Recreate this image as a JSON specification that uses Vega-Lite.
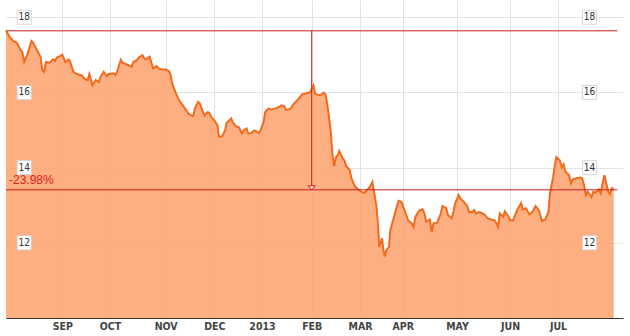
{
  "$schema": "https://vega.github.io/schema/vega-lite/v6.json",
  "width": 617,
  "height": 318,
  "autosize": {"type": "none"},
  "padding": {"left": 6, "top": 0, "right": 7, "bottom": 18},
  "config": {"view": {"stroke": null}, "font": "Liberation Sans"},
  "datasets": {
    "prices": [
      {"date": "2012/08/01", "price": 17.64}, {"date": "2012/08/03", "price": 17.48}, {"date": "2012/08/05", "price": 17.37}, {"date": "2012/08/07", "price": 17.32},
      {"date": "2012/08/09", "price": 17.13}, {"date": "2012/08/10", "price": 17.08}, {"date": "2012/08/11", "price": 16.81}, {"date": "2012/08/13", "price": 17.04},
      {"date": "2012/08/15", "price": 17.37}, {"date": "2012/08/16", "price": 17.32}, {"date": "2012/08/18", "price": 17.13}, {"date": "2012/08/20", "price": 16.95},
      {"date": "2012/08/21", "price": 16.59}, {"date": "2012/08/22", "price": 16.55}, {"date": "2012/08/23", "price": 16.81}, {"date": "2012/08/25", "price": 16.79},
      {"date": "2012/08/27", "price": 16.88}, {"date": "2012/08/28", "price": 16.84}, {"date": "2012/08/29", "price": 16.93}, {"date": "2012/08/31", "price": 16.97},
      {"date": "2012/09/01", "price": 17.01}, {"date": "2012/09/03", "price": 16.81}, {"date": "2012/09/05", "price": 16.88}, {"date": "2012/09/06", "price": 16.81},
      {"date": "2012/09/08", "price": 16.55}, {"date": "2012/09/10", "price": 16.49}, {"date": "2012/09/13", "price": 16.46}, {"date": "2012/09/15", "price": 16.37},
      {"date": "2012/09/17", "price": 16.33}, {"date": "2012/09/18", "price": 16.49}, {"date": "2012/09/20", "price": 16.19}, {"date": "2012/09/22", "price": 16.33},
      {"date": "2012/09/24", "price": 16.28}, {"date": "2012/09/25", "price": 16.41}, {"date": "2012/09/27", "price": 16.55}, {"date": "2012/09/29", "price": 16.43},
      {"date": "2012/09/30", "price": 16.49},
      {"date": "2012/10/03", "price": 16.51}, {"date": "2012/10/04", "price": 16.46}, {"date": "2012/10/05", "price": 16.55}, {"date": "2012/10/07", "price": 16.87},
      {"date": "2012/10/08", "price": 16.79}, {"date": "2012/10/11", "price": 16.73}, {"date": "2012/10/13", "price": 16.68}, {"date": "2012/10/14", "price": 16.81},
      {"date": "2012/10/16", "price": 16.86}, {"date": "2012/10/17", "price": 16.93}, {"date": "2012/10/19", "price": 16.99}, {"date": "2012/10/20", "price": 16.91},
      {"date": "2012/10/21", "price": 16.88}, {"date": "2012/10/23", "price": 16.95}, {"date": "2012/10/25", "price": 16.64}, {"date": "2012/10/27", "price": 16.70},
      {"date": "2012/10/28", "price": 16.64}, {"date": "2012/10/30", "price": 16.61},
      {"date": "2012/11/01", "price": 16.61}, {"date": "2012/11/03", "price": 16.57}, {"date": "2012/11/04", "price": 16.46}, {"date": "2012/11/05", "price": 16.24},
      {"date": "2012/11/07", "price": 16.01}, {"date": "2012/11/09", "price": 15.81}, {"date": "2012/11/11", "price": 15.69}, {"date": "2012/11/13", "price": 15.57},
      {"date": "2012/11/15", "price": 15.44}, {"date": "2012/11/17", "price": 15.39}, {"date": "2012/11/18", "price": 15.37}, {"date": "2012/11/19", "price": 15.57},
      {"date": "2012/11/21", "price": 15.75}, {"date": "2012/11/22", "price": 15.71}, {"date": "2012/11/24", "price": 15.48}, {"date": "2012/11/25", "price": 15.39},
      {"date": "2012/11/27", "price": 15.48}, {"date": "2012/11/28", "price": 15.45}, {"date": "2012/11/29", "price": 15.35},
      {"date": "2012/12/01", "price": 15.26}, {"date": "2012/12/03", "price": 15.13}, {"date": "2012/12/04", "price": 14.83}, {"date": "2012/12/06", "price": 14.83},
      {"date": "2012/12/08", "price": 14.99}, {"date": "2012/12/09", "price": 15.19}, {"date": "2012/12/12", "price": 15.31}, {"date": "2012/12/13", "price": 15.21},
      {"date": "2012/12/15", "price": 15.10}, {"date": "2012/12/17", "price": 15.07}, {"date": "2012/12/19", "price": 14.91}, {"date": "2012/12/20", "price": 14.99},
      {"date": "2012/12/22", "price": 15.04}, {"date": "2012/12/23", "price": 14.91}, {"date": "2012/12/25", "price": 14.92}, {"date": "2012/12/27", "price": 14.99},
      {"date": "2012/12/29", "price": 14.95}, {"date": "2012/12/30", "price": 14.92}, {"date": "2012/12/31", "price": 14.99},
      {"date": "2013/01/02", "price": 15.21}, {"date": "2013/01/03", "price": 15.48}, {"date": "2013/01/05", "price": 15.57}, {"date": "2013/01/07", "price": 15.55},
      {"date": "2013/01/09", "price": 15.57}, {"date": "2013/01/11", "price": 15.60}, {"date": "2013/01/13", "price": 15.66}, {"date": "2013/01/15", "price": 15.63},
      {"date": "2013/01/16", "price": 15.53}, {"date": "2013/01/19", "price": 15.57}, {"date": "2013/01/20", "price": 15.66}, {"date": "2013/01/22", "price": 15.75},
      {"date": "2013/01/24", "price": 15.84}, {"date": "2013/01/26", "price": 15.95}, {"date": "2013/01/28", "price": 15.97}, {"date": "2013/01/30", "price": 15.99},
      {"date": "2013/01/31", "price": 16.01},
      {"date": "2013/02/02", "price": 16.19}, {"date": "2013/02/03", "price": 15.97}, {"date": "2013/02/05", "price": 15.93}, {"date": "2013/02/06", "price": 15.93},
      {"date": "2013/02/08", "price": 15.99}, {"date": "2013/02/09", "price": 15.95}, {"date": "2013/02/10", "price": 15.71}, {"date": "2013/02/12", "price": 14.99},
      {"date": "2013/02/13", "price": 14.37}, {"date": "2013/02/14", "price": 14.04}, {"date": "2013/02/15", "price": 14.27}, {"date": "2013/02/16", "price": 14.33},
      {"date": "2013/02/17", "price": 14.44}, {"date": "2013/02/19", "price": 14.24}, {"date": "2013/02/20", "price": 14.19}, {"date": "2013/02/21", "price": 14.04},
      {"date": "2013/02/23", "price": 13.94}, {"date": "2013/02/24", "price": 13.72}, {"date": "2013/02/26", "price": 13.51}, {"date": "2013/02/28", "price": 13.42},
      {"date": "2013/03/02", "price": 13.36}, {"date": "2013/03/04", "price": 13.33}, {"date": "2013/03/06", "price": 13.40}, {"date": "2013/03/08", "price": 13.48},
      {"date": "2013/03/10", "price": 13.62}, {"date": "2013/03/11", "price": 13.40}, {"date": "2013/03/13", "price": 12.96}, {"date": "2013/03/14", "price": 12.52},
      {"date": "2013/03/15", "price": 11.89}, {"date": "2013/03/17", "price": 12.12}, {"date": "2013/03/18", "price": 11.80}, {"date": "2013/03/19", "price": 11.64},
      {"date": "2013/03/20", "price": 11.80}, {"date": "2013/03/22", "price": 11.89}, {"date": "2013/03/23", "price": 12.34}, {"date": "2013/03/25", "price": 12.60},
      {"date": "2013/03/27", "price": 12.87}, {"date": "2013/03/29", "price": 13.12}, {"date": "2013/03/31", "price": 13.09},
      {"date": "2013/04/02", "price": 12.87}, {"date": "2013/04/04", "price": 12.60}, {"date": "2013/04/06", "price": 12.52}, {"date": "2013/04/07", "price": 12.42},
      {"date": "2013/04/08", "price": 12.69}, {"date": "2013/04/10", "price": 12.85}, {"date": "2013/04/12", "price": 12.89}, {"date": "2013/04/13", "price": 12.78},
      {"date": "2013/04/14", "price": 12.56}, {"date": "2013/04/16", "price": 12.62}, {"date": "2013/04/17", "price": 12.29}, {"date": "2013/04/18", "price": 12.52},
      {"date": "2013/04/20", "price": 12.53}, {"date": "2013/04/22", "price": 12.78}, {"date": "2013/04/23", "price": 12.98}, {"date": "2013/04/25", "price": 12.92},
      {"date": "2013/04/26", "price": 12.74}, {"date": "2013/04/28", "price": 12.65}, {"date": "2013/04/29", "price": 12.82}, {"date": "2013/04/30", "price": 13.05},
      {"date": "2013/05/02", "price": 13.27}, {"date": "2013/05/03", "price": 13.18}, {"date": "2013/05/05", "price": 13.09}, {"date": "2013/05/07", "price": 12.98},
      {"date": "2013/05/08", "price": 12.82}, {"date": "2013/05/10", "price": 12.82}, {"date": "2013/05/11", "price": 12.87}, {"date": "2013/05/12", "price": 12.78},
      {"date": "2013/05/14", "price": 12.82}, {"date": "2013/05/15", "price": 12.80}, {"date": "2013/05/17", "price": 12.76}, {"date": "2013/05/19", "price": 12.65},
      {"date": "2013/05/21", "price": 12.62}, {"date": "2013/05/23", "price": 12.60}, {"date": "2013/05/24", "price": 12.53}, {"date": "2013/05/25", "price": 12.42},
      {"date": "2013/05/26", "price": 12.78}, {"date": "2013/05/28", "price": 12.69}, {"date": "2013/05/29", "price": 12.84}, {"date": "2013/05/31", "price": 12.71},
      {"date": "2013/06/01", "price": 12.60}, {"date": "2013/06/03", "price": 12.60}, {"date": "2013/06/05", "price": 12.82}, {"date": "2013/06/06", "price": 12.92},
      {"date": "2013/06/08", "price": 13.06}, {"date": "2013/06/09", "price": 12.89}, {"date": "2013/06/11", "price": 12.92}, {"date": "2013/06/13", "price": 12.76},
      {"date": "2013/06/15", "price": 12.82}, {"date": "2013/06/17", "price": 12.98}, {"date": "2013/06/19", "price": 12.87}, {"date": "2013/06/21", "price": 12.58},
      {"date": "2013/06/23", "price": 12.62}, {"date": "2013/06/25", "price": 12.82}, {"date": "2013/06/26", "price": 13.32}, {"date": "2013/06/28", "price": 13.76},
      {"date": "2013/06/29", "price": 14.06}, {"date": "2013/06/30", "price": 14.28},
      {"date": "2013/07/02", "price": 14.19}, {"date": "2013/07/03", "price": 14.01}, {"date": "2013/07/04", "price": 14.09}, {"date": "2013/07/05", "price": 13.89},
      {"date": "2013/07/07", "price": 13.80}, {"date": "2013/07/08", "price": 13.58}, {"date": "2013/07/09", "price": 13.69}, {"date": "2013/07/11", "price": 13.72},
      {"date": "2013/07/13", "price": 13.74}, {"date": "2013/07/14", "price": 13.72}, {"date": "2013/07/15", "price": 13.54}, {"date": "2013/07/16", "price": 13.27},
      {"date": "2013/07/17", "price": 13.36}, {"date": "2013/07/19", "price": 13.22}, {"date": "2013/07/20", "price": 13.36}, {"date": "2013/07/21", "price": 13.33},
      {"date": "2013/07/23", "price": 13.42}, {"date": "2013/07/24", "price": 13.32}, {"date": "2013/07/25", "price": 13.58}, {"date": "2013/07/26", "price": 13.80},
      {"date": "2013/07/27", "price": 13.58}, {"date": "2013/07/28", "price": 13.36}, {"date": "2013/07/29", "price": 13.30}, {"date": "2013/07/30", "price": 13.45},
      {"date": "2013/07/31", "price": 13.45}
    ],
    "levels": [{"level": 12}, {"level": 14}, {"level": 16}, {"level": 18}],
    "change": [{"start": "2012/08/01", "pivot": "2013/02/01", "end": "2013/08/02", "from": 17.64, "to": 13.41, "label": "-23.98%"}]
  },
  "layer": [
    {
      "data": {"name": "prices"},
      "mark": {"type": "area", "fill": "#fda16c", "fillOpacity": 0.85},
      "encoding": {
        "x": {
          "field": "date", "type": "temporal",
          "scale": {
            "nice": false,
            "domain": {"expr": "[datetime(2012,7,1),datetime(2012,8,1),datetime(2012,9,1),datetime(2012,10,1),datetime(2012,11,1),datetime(2013,0,1),datetime(2013,1,1),datetime(2013,2,1),datetime(2013,3,1),datetime(2013,4,1),datetime(2013,5,1),datetime(2013,6,1),datetime(2013,7,5)]"},
            "range": [0, 56.3, 104, 159.7, 208.3, 256, 305.7, 354, 396.7, 451, 504, 552, 617]
          },
          "axis": {
            "title": null,
            "values": [
              {"year": 2012, "month": 9, "date": 1}, {"year": 2012, "month": 10, "date": 1}, {"year": 2012, "month": 11, "date": 1},
              {"year": 2012, "month": 12, "date": 1}, {"year": 2013, "month": 1, "date": 1}, {"year": 2013, "month": 2, "date": 1},
              {"year": 2013, "month": 3, "date": 1}, {"year": 2013, "month": 4, "date": 1}, {"year": 2013, "month": 5, "date": 1},
              {"year": 2013, "month": 6, "date": 1}, {"year": 2013, "month": 7, "date": 1}
            ],
            "labelExpr": "month(datum.value) == 0 ? timeFormat(datum.value, '%Y') : upper(timeFormat(datum.value, '%b'))",
            "ticks": false,
            "domainColor": "#333333",
            "domainWidth": 1,
            "grid": true,
            "gridColor": "#e3e3e3",
            "labelPadding": 3,
            "labelFont": "Liberation Sans Narrow, DejaVu Sans Condensed, Liberation Sans",
            "labelFontSize": 10.5,
            "labelFontWeight": "bold",
            "labelColor": "#444444"
          }
        },
        "y": {
          "field": "price", "type": "quantitative",
          "scale": {"domain": [10, 18.46], "nice": false, "zero": false},
          "axis": {"title": null, "values": [12, 14, 16, 18], "labels": false, "ticks": false, "domain": false, "grid": true, "gridColor": "#e3e3e3"}
        },
        "y2": {"datum": 10}
      }
    },
    {
      "data": {"name": "prices"},
      "mark": {"type": "line", "color": "#f26b1d", "strokeWidth": 2},
      "encoding": {
        "x": {"field": "date", "type": "temporal"},
        "y": {"field": "price", "type": "quantitative"}
      }
    },
    {
      "data": {"name": "change"},
      "mark": {"type": "rule", "color": "#c81e1e", "strokeWidth": 1},
      "encoding": {
        "x": {"field": "start", "type": "temporal"},
        "x2": {"field": "end"},
        "y": {"field": "from", "type": "quantitative"}
      }
    },
    {
      "data": {"name": "change"},
      "mark": {"type": "rule", "color": "#c81e1e", "strokeWidth": 1},
      "encoding": {
        "x": {"field": "start", "type": "temporal"},
        "x2": {"field": "end"},
        "y": {"field": "to", "type": "quantitative"}
      }
    },
    {
      "data": {"name": "change"},
      "mark": {"type": "rule", "color": "#c81e1e", "strokeWidth": 1},
      "encoding": {
        "x": {"field": "pivot", "type": "temporal"},
        "y": {"field": "from", "type": "quantitative"},
        "y2": {"field": "to"}
      }
    },
    {
      "data": {"name": "change"},
      "mark": {"type": "point", "shape": "M-1,-1.15L1,-1.15L0,0Z", "size": 49, "filled": true, "fill": "#fff0e6", "stroke": "#c81e1e", "strokeWidth": 1, "opacity": 1},
      "encoding": {
        "x": {"field": "pivot", "type": "temporal"},
        "y": {"field": "to", "type": "quantitative"}
      }
    },
    {
      "data": {"name": "change"},
      "mark": {"type": "text", "align": "left", "baseline": "alphabetic", "dx": 3, "dy": -6, "fontSize": 12, "color": "#e0201b", "font": "Liberation Sans"},
      "encoding": {
        "x": {"field": "start", "type": "temporal"},
        "y": {"field": "to", "type": "quantitative"},
        "text": {"field": "label"}
      }
    },
    {
      "data": {"name": "levels"},
      "mark": {"type": "point", "shape": "square", "size": 196, "filled": true, "fill": "#ffffff", "stroke": "#d6d6d6", "strokeWidth": 1, "opacity": 1},
      "encoding": {
        "x": {"datum": {"year": 2012, "month": 8, "date": 11}, "type": "temporal"},
        "y": {"field": "level", "type": "quantitative"}
      }
    },
    {
      "data": {"name": "levels"},
      "mark": {"type": "point", "shape": "square", "size": 196, "filled": true, "fill": "#ffffff", "stroke": "#d6d6d6", "strokeWidth": 1, "opacity": 1},
      "encoding": {
        "x": {"datum": {"year": 2013, "month": 7, "date": 18}, "type": "temporal"},
        "y": {"field": "level", "type": "quantitative"}
      }
    },
    {
      "data": {"name": "levels"},
      "mark": {"type": "text", "align": "center", "baseline": "middle", "fontSize": 10, "color": "#333333", "font": "Liberation Sans Narrow, DejaVu Sans Condensed, Liberation Sans"},
      "encoding": {
        "x": {"datum": {"year": 2012, "month": 8, "date": 11}, "type": "temporal"},
        "y": {"field": "level", "type": "quantitative"},
        "text": {"field": "level", "type": "quantitative"}
      }
    },
    {
      "data": {"name": "levels"},
      "mark": {"type": "text", "align": "center", "baseline": "middle", "fontSize": 10, "color": "#333333", "font": "Liberation Sans Narrow, DejaVu Sans Condensed, Liberation Sans"},
      "encoding": {
        "x": {"datum": {"year": 2013, "month": 7, "date": 18}, "type": "temporal"},
        "y": {"field": "level", "type": "quantitative"},
        "text": {"field": "level", "type": "quantitative"}
      }
    }
  ]
}
